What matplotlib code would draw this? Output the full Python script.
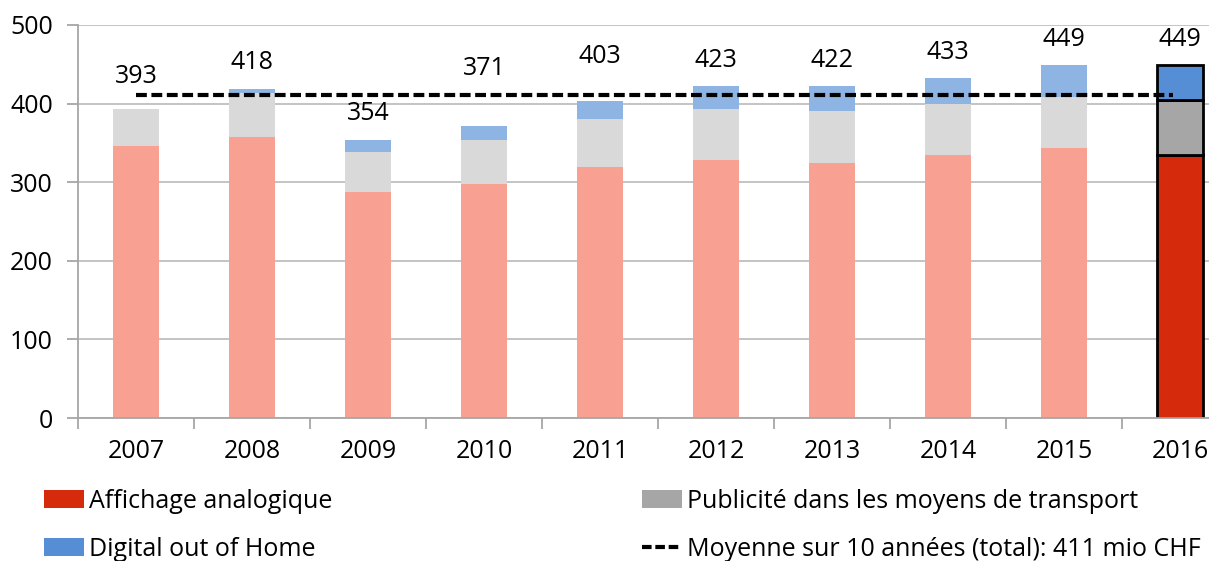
import matplotlib
matplotlib.use("Agg")
import matplotlib.pyplot as plt
from matplotlib.patches import Patch
from matplotlib.lines import Line2D

years = ["2007", "2008", "2009", "2010", "2011", "2012", "2013", "2014", "2015", "2016"]
analog = [346, 357, 288, 298, 319, 328, 325, 334, 343, 334]
transport = [47, 57, 51, 56, 61, 65, 65, 65, 66, 71]
digital = [0, 4, 15, 17, 23, 30, 32, 34, 40, 44]
totals = [393, 418, 354, 371, 403, 423, 422, 433, 449, 449]
average = 411

# label offsets above the bar (manual, to avoid the dashed line)
label_offsets = [42, 34, 34, 74, 57, 32, 33, 32, 33, 33]

light = {"analog": "#F8A193", "transport": "#D9D9D9", "digital": "#8EB4E3"}
dark = {"analog": "#D62A0C", "transport": "#A6A6A6", "digital": "#558ED5"}

plt.rcParams["font.family"] = ["Open Sans", "DejaVu Sans"]
fs = 18

fig = plt.figure(figsize=(12.09, 5.61), dpi=100)
ax = fig.add_axes([78 / 1209, 143 / 561, 1160 / 1209, 393 / 561])

x = list(range(len(years)))
w = 0.405
n = len(years)
for i in x:
    last = i == n - 1
    cols = dark if last else light
    ec = "black" if last else "none"
    lw = 2 if last else 0
    ax.bar(i, analog[i], w, color=cols["analog"], edgecolor=ec, linewidth=lw, zorder=2)
    ax.bar(i, transport[i], w, bottom=analog[i], color=cols["transport"],
           edgecolor=ec, linewidth=lw, zorder=2)
    if digital[i] > 0:
        ax.bar(i, digital[i], w, bottom=analog[i] + transport[i], color=cols["digital"],
               edgecolor=ec, linewidth=lw, zorder=2)
    ax.text(i, totals[i] + label_offsets[i], str(totals[i]), ha="center", va="center",
            fontsize=fs, color="black")

ax.plot([x[0], x[-1] - 0.06], [average, average], color="black", lw=3,
        dashes=(2.6, 1.1), zorder=4)

ax.set_xlim(-0.5, n - 0.5)
ax.set_ylim(0, 500)
ax.set_yticks([0, 100, 200, 300, 400, 500])
ax.yaxis.grid(True, color="#BFBFBF", lw=1.3, zorder=0)
ax.set_axisbelow(True)
ax.set_xticks(x)
ax.set_xticklabels(years)
ax.set_xticks([i - 0.5 for i in range(n + 1)], minor=True)
ax.tick_params(axis="x", which="major", length=0, labelsize=fs, pad=15)
ax.tick_params(axis="x", which="minor", length=8, color="#A6A6A6", width=1.3)
ax.tick_params(axis="y", length=8, color="#A6A6A6", width=1.3, labelsize=fs, pad=10)
for s in ["top", "right"]:
    ax.spines[s].set_visible(False)
for s in ["left", "bottom"]:
    ax.spines[s].set_color("#A6A6A6")
    ax.spines[s].set_linewidth(1.3)

handles = [
    Patch(facecolor=dark["analog"], label="Affichage analogique"),
    Patch(facecolor=dark["digital"], label="Digital out of Home"),
    Patch(facecolor=dark["transport"], label="Publicité dans les moyens de transport"),
    Line2D([0], [0], color="black", lw=3, dashes=(2.3, 0.9),
           label="Moyenne sur 10 années (total): 411 mio CHF"),
]
fig.legend(handles=handles, ncol=2, loc="upper left", bbox_to_anchor=(44 / 1209, 1 - 489 / 561),
           frameon=False, fontsize=fs, handlelength=1.6, handleheight=0.75,
           handletextpad=0.2, columnspacing=12.4, labelspacing=0.9,
           borderpad=0, borderaxespad=0)

fig.savefig("out.png", dpi=100)
